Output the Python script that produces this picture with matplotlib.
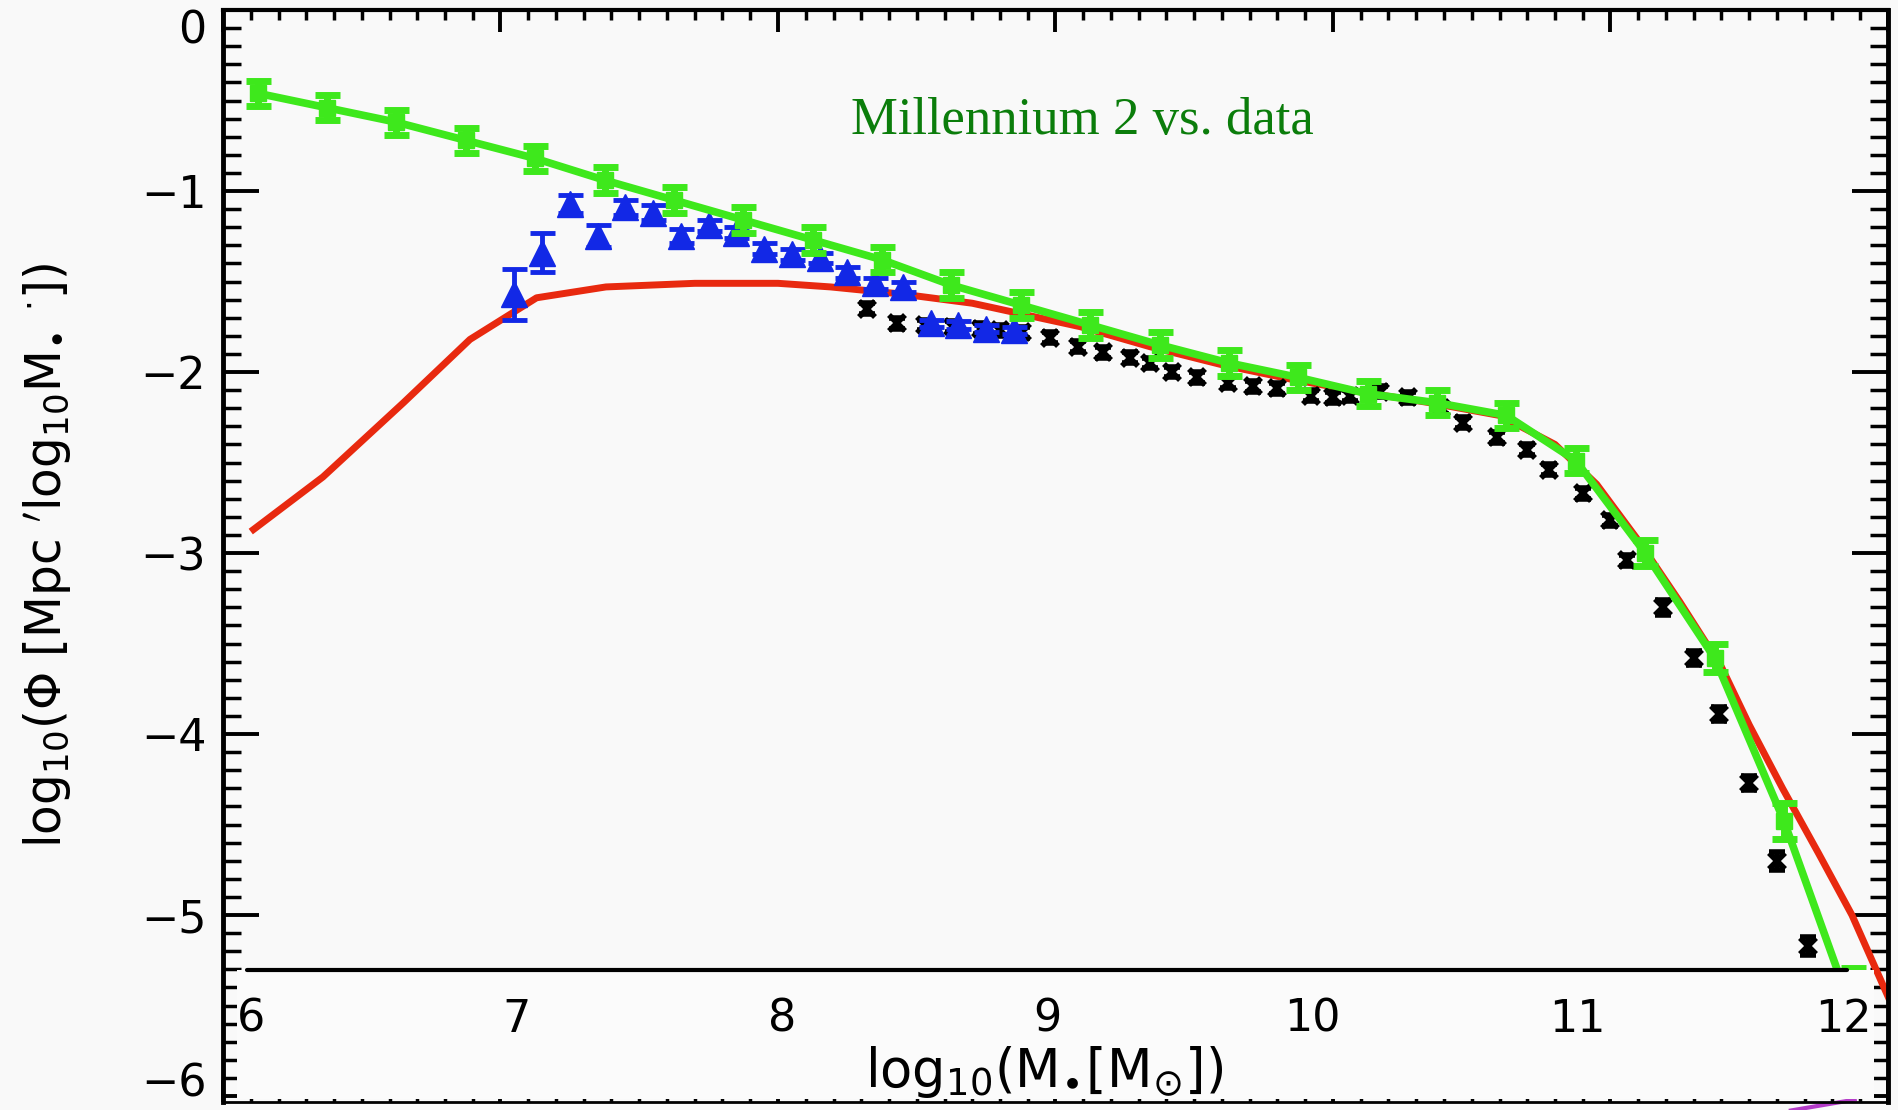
import matplotlib.pyplot as plt
from matplotlib.ticker import MultipleLocator

plt.rcParams['font.family'] = ['DejaVu Sans']
plt.rcParams['mathtext.fontset'] = 'dejavusans'

# --- model: Millennium 2 (green, with error bars) ---
green_x = [6.125, 6.375, 6.625, 6.875, 7.125, 7.375, 7.625, 7.875, 8.125, 8.375,
           8.625, 8.875, 9.125, 9.375, 9.625, 9.875, 10.125, 10.375, 10.625, 10.875,
           11.125, 11.375, 11.625, 11.875]
green_y = [-0.46, -0.54, -0.62, -0.72, -0.82, -0.94, -1.05, -1.16, -1.27, -1.38,
           -1.52, -1.63, -1.74, -1.85, -1.95, -2.03, -2.12, -2.17, -2.24, -2.49,
           -3.00, -3.58, -4.48, -5.55]
green_err = [0.07, 0.07, 0.07, 0.07, 0.07, 0.07, 0.07, 0.07, 0.07, 0.07,
             0.07, 0.07, 0.07, 0.07, 0.07, 0.07, 0.07, 0.07, 0.07, 0.07,
             0.07, 0.08, 0.10, 0.26]

# --- red model curve ---
red_x = [6.11, 6.36, 6.65, 6.89, 7.13, 7.38, 7.70, 8.00, 8.19, 8.45, 8.70, 9.09,
         9.34, 9.60, 9.85, 10.10, 10.35, 10.60, 10.80, 10.95, 11.10, 11.25, 11.40,
         11.50, 11.62, 11.75, 11.87, 12.00]
red_y = [-2.87, -2.58, -2.17, -1.82, -1.59, -1.53, -1.51, -1.51, -1.53, -1.57, -1.62,
         -1.75, -1.86, -1.96, -2.04, -2.11, -2.17, -2.24, -2.40, -2.62, -2.93, -3.27,
         -3.63, -3.95, -4.30, -4.66, -5.00, -5.45]

# --- blue data (triangles) ---
blue_x = [7.05, 7.15, 7.25, 7.35, 7.45, 7.55, 7.65, 7.75, 7.85, 7.95, 8.05, 8.15,
          8.25, 8.35, 8.45, 8.55, 8.65, 8.75, 8.85]
blue_y = [-1.57, -1.34, -1.07, -1.25, -1.09, -1.12, -1.25, -1.19, -1.23, -1.32, -1.35,
          -1.37, -1.45, -1.51, -1.53, -1.73, -1.74, -1.76, -1.77]
blue_err = [0.14, 0.11, 0.05, 0.06, 0.04, 0.04, 0.04, 0.03, 0.03, 0.03, 0.03, 0.03,
            0.03, 0.03, 0.03, 0.02, 0.02, 0.02, 0.02]

# --- black data ---
black_x = [8.32, 8.43, 8.53, 8.63, 8.73, 8.80, 8.88, 8.98, 9.08, 9.17, 9.27, 9.34,
           9.42, 9.51, 9.62, 9.71, 9.80, 9.92, 10.00, 10.06, 10.17, 10.27, 10.39,
           10.47, 10.59, 10.70, 10.78, 10.90, 11.00, 11.06, 11.19, 11.30, 11.39,
           11.50, 11.60, 11.71]
black_y = [-1.65, -1.73, -1.74, -1.75, -1.76, -1.77, -1.78, -1.81, -1.86, -1.89, -1.92,
           -1.95, -2.00, -2.03, -2.06, -2.08, -2.09, -2.13, -2.14, -2.13, -2.11, -2.14,
           -2.20, -2.28, -2.36, -2.43, -2.54, -2.67, -2.82, -3.04, -3.30, -3.58, -3.89,
           -4.27, -4.70, -5.17]
black_err = [0.03, 0.03, 0.03, 0.03, 0.03, 0.03, 0.03, 0.03, 0.03, 0.03, 0.03, 0.03,
             0.03, 0.03, 0.03, 0.03, 0.03, 0.03, 0.03, 0.03, 0.03, 0.03, 0.03, 0.03,
             0.03, 0.03, 0.03, 0.03, 0.03, 0.03, 0.04, 0.04, 0.04, 0.04, 0.05, 0.05]

# small magenta piece at the lower right
magenta_x = [11.65, 11.88]
magenta_y = [-6.08, -6.02]

y_ticks = [0, -1, -2, -3, -4, -5, -6]
y_labels = ['0', '−1', '−2', '−3', '−4', '−5', '−6']
x_ticks = [6, 7, 8, 9, 10, 11, 12]
x_labels = ['6', '7', '8', '9', '10', '11', '12']

bg = '#f9f9f9'
fig = plt.figure(figsize=(18.99, 11.10), dpi=100, facecolor=bg)

# main (original) plot
ax = fig.add_axes([223/1899, 1 - 1102/1110, 1665/1899, 1092/1110], facecolor=bg)
ax.set_xlim(6, 12)
ax.set_ylim(-6.033, 0)

ax.plot(red_x, red_y, color='#e8290f', lw=5, zorder=2)
ax.errorbar(black_x, black_y, yerr=black_err, fmt='x', color='black', ms=11, mew=4,
            elinewidth=4, capsize=6, capthick=4, zorder=3)
ax.errorbar(blue_x, blue_y, yerr=blue_err, fmt='^', color='#1228e6', ms=19,
            elinewidth=3.5, capsize=9, capthick=3.5, zorder=4)
ax.errorbar(green_x, green_y, yerr=green_err, fmt='-s', color='#3ee81c', lw=5.5, ms=11,
            elinewidth=5, capsize=9, capthick=5, zorder=5)
ax.plot(magenta_x, magenta_y, color='#b43cc8', lw=3, clip_on=False, zorder=1)

ax.xaxis.set_major_locator(MultipleLocator(1))
ax.xaxis.set_minor_locator(MultipleLocator(0.1))
ax.yaxis.set_minor_locator(MultipleLocator(0.1))
ax.set_yticks(y_ticks, y_labels)
ax.tick_params(axis='x', which='major', direction='in', length=16, width=2.8,
               top=True, bottom=True, labelbottom=False)
ax.tick_params(axis='x', which='minor', direction='in', length=7, width=2.5,
               top=True, bottom=True)
ax.tick_params(axis='y', which='major', direction='in', length=26, width=2.8,
               left=True, right=True, labelsize=32, pad=12)
ax.tick_params(axis='y', which='minor', direction='in', length=13, width=2.5,
               left=True, right=True)
for lab in ax.get_yticklabels():
    if lab.get_text() == '0':
        lab.set_va('top')
    if lab.get_text() == '−6':
        lab.set_va('baseline')
for side in ['left', 'right']:
    ax.spines[side].set_linewidth(3.5)
ax.spines['top'].set_linewidth(3)
ax.spines['bottom'].set_linewidth(2)

ax.set_ylabel('log$_{10}$(Φ [Mpc $^{\\prime}$log$_{10}$M$_{\\bullet}$ $^{\\cdot}$])',
              fontsize=35)
ax.yaxis.set_label_coords(-0.1057, 0.501)
ax.yaxis.label.set_va('center')

fig.text(0.5702, 0.891, 'Millennium 2 vs. data', ha='center', va='center',
         color='#0b7d0b', fontsize=38, family='Liberation Serif')

# pasted panel with the x-axis labels
box = fig.add_axes([237/1899, 1 - 1099/1110, 1637/1899, 129/1110], facecolor='#fbfbfb')
box.set_xlim(5.947, 12.117)
box.set_ylim(0, 1)
box.set_yticks([])
box.set_xticks(x_ticks, x_labels)
box.tick_params(axis='x', length=0, labelsize=32, pad=-73)
for side in ['left', 'right', 'bottom']:
    box.spines[side].set_visible(False)
box.spines['top'].set_linewidth(3)
box.spines['top'].set_bounds(5.985, 12.015)
box.spines['top'].set_capstyle('round')
box.set_xlabel('log$_{10}$(M$_{\\bullet}$[M$_{\\odot}$])', fontsize=38)
box.xaxis.set_label_coords(0.493, 0.21)
box.xaxis.label.set_va('center')

fig.savefig('out.png', dpi=100, facecolor=bg)
